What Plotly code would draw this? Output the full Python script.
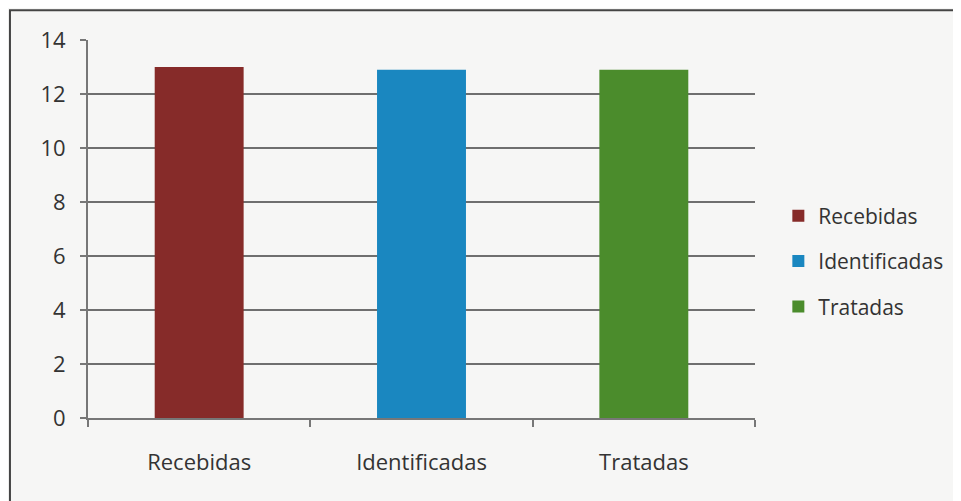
import plotly.graph_objects as go

categories = ["Recebidas", "Identificadas", "Tratadas"]
values = [13, 12.9, 12.9]
colors = ["#862b29", "#1a87c0", "#4b8c2c"]

fig = go.Figure()
for cat, val, col in zip(categories, values, colors):
    fig.add_trace(go.Bar(
        x=[cat], y=[val], name=cat,
        marker=dict(color=col, line=dict(width=0)),
        legendgroup=cat,
        width=0.4,
    ))

font = "Open Sans, Liberation Sans, sans-serif"

# page has an 8px body margin, so the figure is a bit smaller and shifted
fig.update_layout(
    width=953, height=493,
    margin=dict(l=80, r=206, t=32, b=83),
    paper_bgcolor="#f6f6f5",
    plot_bgcolor="#f6f6f5",
    barmode="overlay",
    font=dict(family=font, size=22, color="#333333"),
    legend=dict(
        x=1.035, y=0.415, xanchor="left", yanchor="middle",
        font=dict(size=21, color="#333333"),
        tracegroupgap=15,
        bgcolor="rgba(0,0,0,0)",
    ),
    showlegend=True,
)

fig.update_xaxes(
    showgrid=False, showline=True, linecolor="#777777", linewidth=2,
    ticks="outside", tickson="boundaries", ticklen=7, tickcolor="#777777", tickwidth=2,
    ticklabelstandoff=24, tickfont=dict(size=22),
)
fig.update_yaxes(
    range=[0, 14], dtick=2, showgrid=True, gridcolor="#6f6f6f", gridwidth=1.5,
    showline=True, linecolor="#777777", linewidth=2, zeroline=False,
    ticks="outside", ticklen=6, tickcolor="#777777", tickwidth=2,
    ticklabelstandoff=10, tickfont=dict(size=22),
)

# outer chart border
fig.add_shape(type="rect", xref="paper", yref="paper",
              x0=-0.117, x1=1.32, y0=-0.25, y1=1.079,
              line=dict(color="#444444", width=2))

fig.write_html("out.html")
